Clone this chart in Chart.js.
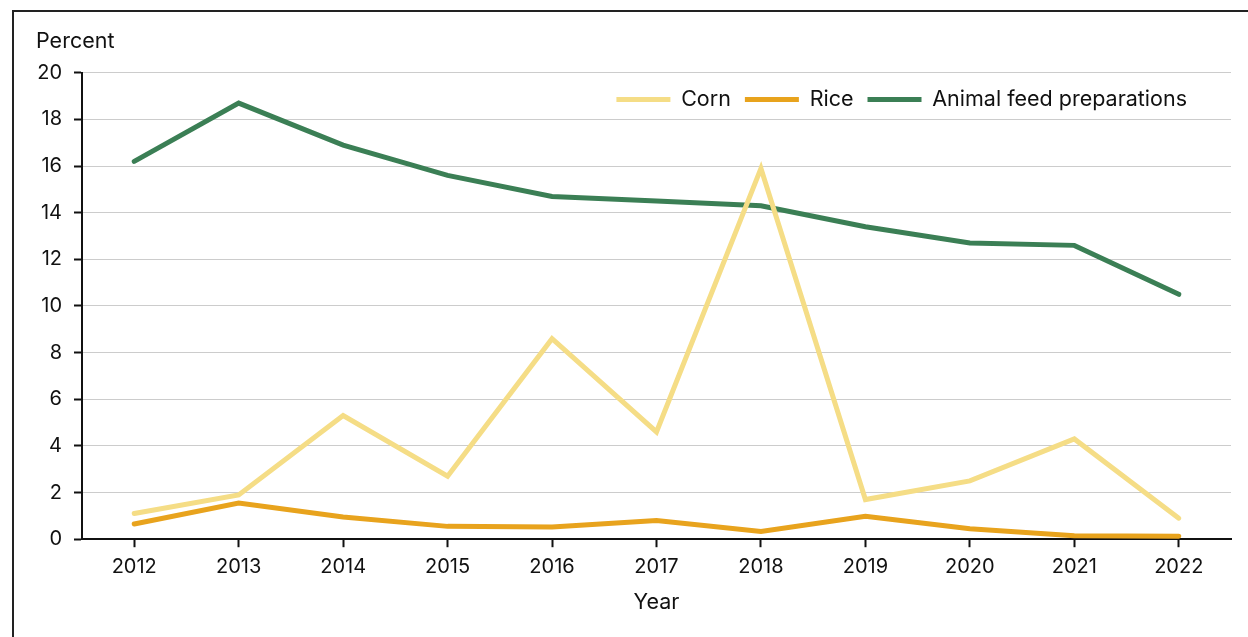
<!DOCTYPE html>
<html>
<head>
<meta charset="utf-8">
<script src="https://cdn.jsdelivr.net/npm/chart.js@4/dist/chart.umd.min.js"></script>
<style>
  body { margin: 0; background: #fff; overflow: hidden; }
  #frame {
    position: absolute; left: 12px; top: 10px;
    width: 1236px; height: 627px;
    border-left: 2px solid #222; border-top: 2px solid #222;
  }
  #frame canvas { display: block; }
</style>
</head>
<body>
<div id="frame"><canvas id="myChart" width="1234" height="625"></canvas></div>
<script>
let years = ['2012', '2013', '2014', '2015', '2016', '2017', '2018', '2019', '2020', '2021', '2022'];
let corn = [1.1, 1.9, 5.3, 2.7, 8.6, 4.6, 15.9, 1.7, 2.5, 4.3, 0.9];
let rice = [0.65, 1.55, 0.95, 0.55, 0.52, 0.8, 0.33, 0.98, 0.45, 0.15, 0.13];
let animalFeed = [16.2, 18.7, 16.9, 15.6, 14.7, 14.5, 14.3, 13.4, 12.7, 12.6, 10.5];
let yTicks = [0, 2, 4, 6, 8, 10, 12, 14, 16, 18, 20];

Chart.defaults.font.family = 'Inter, "Liberation Sans", sans-serif';
Chart.defaults.font.size = 20;
Chart.defaults.color = '#111';

// legend takes no room at the top, then gets moved inside the plot, top right
let legendInside = {
    id: 'legendInside',
    beforeLayout: function(chart) {
        let legend = chart.legend;
        if (legend && !legend._patched) {
            let fit = legend.fit;
            legend.fit = function() {
                fit.call(this);
                this.height = 0;
            };
            legend._patched = true;
        }
    },
    afterLayout: function(chart) {
        let legend = chart.legend;
        legend.right = chart.chartArea.right - 30;
        legend.top = chart.chartArea.top + 2;
        legend.height = 50;
        legend.bottom = legend.top + 50;
    }
};

function lineSet(label, data, color) {
    return {
        label: label,
        data: data,
        borderColor: color,
        backgroundColor: color,
        borderWidth: 5,
        borderCapStyle: 'round',
        pointRadius: 0,
        tension: 0
    };
}

let ctx = document.getElementById('myChart').getContext('2d');
let chart = new Chart(ctx, {
    type: 'line',
    data: {
        labels: years,
        datasets: [
            lineSet('Corn', corn, '#f5dd86'),
            lineSet('Rice', rice, '#e8a31d'),
            lineSet('Animal feed preparations', animalFeed, '#3b7f55')
        ]
    },
    plugins: [legendInside],
    options: {
        responsive: false,
        animation: false,
        layout: { padding: { left: 22, right: 17, top: 17, bottom: 22 } },
        plugins: {
            title: {
                display: true,
                text: 'Percent',
                align: 'start',
                font: { size: 21.5, weight: 'normal' },
                padding: { top: 0, bottom: 18 }
            },
            legend: {
                position: 'top',
                align: 'end',
                labels: {
                    usePointStyle: true,
                    pointStyle: 'line',
                    pointStyleWidth: 54,
                    boxHeight: 5,
                    padding: 14,
                    font: { size: 21.5 }
                }
            },
            tooltip: { enabled: false }
        },
        scales: {
            x: {
                offset: true,
                border: { color: '#111', width: 2 },
                grid: { drawOnChartArea: false, tickColor: '#111', tickWidth: 2, tickLength: 8 },
                ticks: { padding: 8 },
                title: { display: true, text: 'Year', font: { size: 21.5 }, padding: { top: 2, bottom: 0 } }
            },
            y: {
                min: 0,
                max: 20,
                afterBuildTicks: function(axis) {
                    axis.ticks = yTicks.map(function(v) { return { value: v }; });
                },
                afterFit: function(axis) { axis.width = 46; },
                border: { color: '#111', width: 2 },
                grid: { color: '#cccccc', lineWidth: 1, tickColor: '#111', tickWidth: 2, tickLength: 8 },
                ticks: { padding: 12 }
            }
        }
    }
});
</script>
</body>
</html>
